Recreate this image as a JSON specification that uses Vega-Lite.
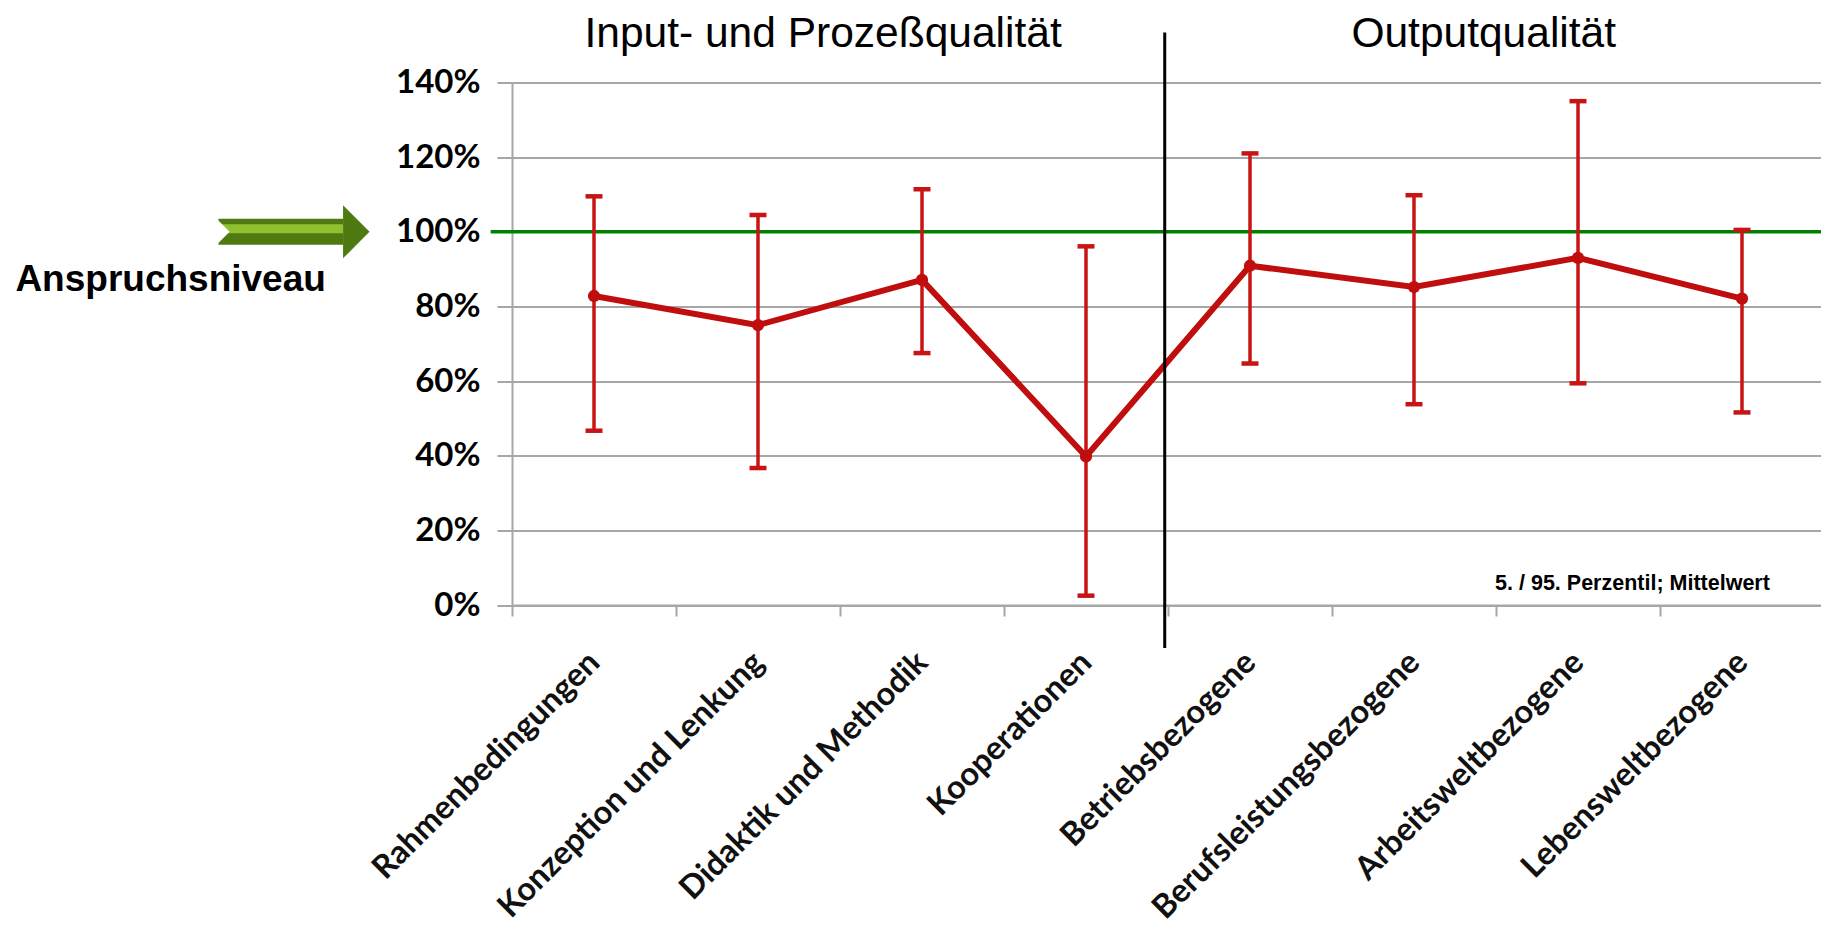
{
"$schema":"https://vega.github.io/schema/vega-lite/v6.json",
"autosize":{"type":"none"},
"width":1312,"height":522.5,
"padding":{"left":512,"top":82.5,"right":0,"bottom":324},
"background":"white",
"view":{"stroke":null},
"datasets":{"q":[
{"k":"Rahmenbedingungen","m":0.828,"lo":0.467,"hi":1.095},
{"k":"Konzeption und Lenkung","m":0.75,"lo":0.367,"hi":1.045},
{"k":"Didaktik und Methodik","m":0.871,"lo":0.675,"hi":1.114},
{"k":"Kooperationen","m":0.398,"lo":0.025,"hi":0.961},
{"k":"Betriebsbezogene","m":0.909,"lo":0.647,"hi":1.21},
{"k":"Berufsleistungsbezogene","m":0.852,"lo":0.538,"hi":1.098},
{"k":"Arbeitsweltbezogene","m":0.93,"lo":0.594,"hi":1.35},
{"k":"Lebensweltbezogene","m":0.821,"lo":0.516,"hi":1.005}
]},
"resolve":{"scale":{"x":"independent"},"axis":{"x":"independent"}},
"layer":[
{"data":{"name":"q"},"mark":{"type":"line","opacity":0},
 "encoding":{
  "x":{"field":"k","type":"nominal","sort":null,"scale":{"type":"band","paddingInner":0,"paddingOuter":0},
   "axis":{"title":null,"bandPosition":0,"tickBand":"extent","domain":true,"domainColor":"#a6a6a6","domainWidth":2,"tickColor":"#a6a6a6","tickWidth":2,"tickSize":11,"labelAngle":-45,"labelAlign":"right","labelBaseline":"middle","labelFont":"Lato","labelFontWeight":"bold","labelFontSize":32.5,"labelColor":"#111111","labelPadding":41,"labelOverlap":false,"labelBound":false,"labelLimit":600}},
  "y":{"field":"m","type":"quantitative","scale":{"domain":[0,1.4],"nice":false},
   "axis":{"title":null,"values":[0,0.2,0.4,0.6,0.8,1,1.2,1.4],"format":".0%","grid":true,"gridColor":"#a6a6a6","gridWidth":2,"domain":true,"domainColor":"#a6a6a6","domainWidth":2,"tickColor":"#a6a6a6","tickWidth":2,"tickSize":15,"labelFont":"Lato","labelFontWeight":"bold","labelFontSize":33,"labelColor":"#000000","labelPadding":17}}
 }},
{"data":{"values":[{"a":-0.13,"b":8,"v":1}]},"mark":{"type":"rule","color":"#008000","strokeWidth":3.5,"clip":false},
 "encoding":{"x":{"field":"a","type":"quantitative","scale":{"domain":[0,8],"nice":false,"zero":false},"axis":null},"x2":{"field":"b"},"y":{"field":"v","type":"quantitative"}}},
{"data":{"name":"q"},"mark":{"type":"rule","color":"#c81414","strokeWidth":3.5},
 "encoding":{"x":{"field":"k","type":"nominal","sort":null,"scale":{"type":"band","paddingInner":0,"paddingOuter":0},"axis":null},"y":{"field":"lo","type":"quantitative"},"y2":{"field":"hi"}}},
{"data":{"name":"q"},"mark":{"type":"tick","color":"#c81414","opacity":1,"size":17,"thickness":4.5,"orient":"horizontal"},
 "encoding":{"x":{"field":"k","type":"nominal","sort":null,"scale":{"type":"band","paddingInner":0,"paddingOuter":0},"axis":null},"y":{"field":"lo","type":"quantitative"}}},
{"data":{"name":"q"},"mark":{"type":"tick","color":"#c81414","opacity":1,"size":17,"thickness":4.5,"orient":"horizontal"},
 "encoding":{"x":{"field":"k","type":"nominal","sort":null,"scale":{"type":"band","paddingInner":0,"paddingOuter":0},"axis":null},"y":{"field":"hi","type":"quantitative"}}},
{"data":{"name":"q"},"mark":{"type":"line","color":"#c00d0d","strokeWidth":6,"point":{"filled":true,"color":"#c00d0d","size":150,"opacity":1}},
 "encoding":{"x":{"field":"k","type":"nominal","sort":null,"scale":{"type":"band","paddingInner":0,"paddingOuter":0},"axis":null},"y":{"field":"m","type":"quantitative"}}},
{"data":{"values":[{"a":3.98,"v":1.534,"w":-0.115}]},"mark":{"type":"rule","color":"#000000","strokeWidth":3,"clip":false},
 "encoding":{"x":{"field":"a","type":"quantitative","scale":{"domain":[0,8],"nice":false,"zero":false},"axis":null},"y":{"field":"v","type":"quantitative"},"y2":{"field":"w"}}},
{"data":{"values":[{"a":-1.79,"b":-1.03,"v":1.0}]},"mark":{"type":"rule","color":"#4f7a12","strokeWidth":26,"clip":false},
 "encoding":{"x":{"field":"a","type":"quantitative","scale":{"domain":[0,8],"nice":false,"zero":false},"axis":null},"x2":{"field":"b"},"y":{"field":"v","type":"quantitative"}}},
{"data":{"values":[{"a":-1.79,"b":-1.03,"v":1.008}]},"mark":{"type":"rule","color":"#8fc02f","strokeWidth":9,"clip":false},
 "encoding":{"x":{"field":"a","type":"quantitative","scale":{"domain":[0,8],"nice":false,"zero":false},"axis":null},"x2":{"field":"b"},"y":{"field":"v","type":"quantitative"}}},
{"data":{"values":[{"a":-1.03,"v":1.0}]},"mark":{"type":"point","filled":true,"color":"#4f7a12","opacity":1,"shape":"M0,-1L1,0L0,1Z","size":2808,"clip":false},
 "encoding":{"x":{"field":"a","type":"quantitative","scale":{"domain":[0,8],"nice":false,"zero":false},"axis":null},"y":{"field":"v","type":"quantitative"}}},
{"data":{"values":[{"a":-1.795,"v":1.0}]},"mark":{"type":"point","filled":true,"color":"#ffffff","opacity":1,"shape":"M0,-1L1,0L0,1Z","size":576,"clip":false},
 "encoding":{"x":{"field":"a","type":"quantitative","scale":{"domain":[0,8],"nice":false,"zero":false},"axis":null},"y":{"field":"v","type":"quantitative"}}},
{"data":{"values":[{"t":"Input- und Prozeßqualität","a":1.897,"v":1.53},{"t":"Outputqualität","a":5.925,"v":1.53}]},"mark":{"type":"text","font":"Liberation Sans","fontSize":42.5,"color":"#000000","align":"center","baseline":"middle","clip":false},
 "encoding":{"x":{"field":"a","type":"quantitative","scale":{"domain":[0,8],"nice":false,"zero":false},"axis":null},"y":{"field":"v","type":"quantitative"},"text":{"field":"t"}}},
{"data":{"values":[{"t":"Anspruchsniveau","a":-1.135,"v":0.872}]},"mark":{"type":"text","font":"Liberation Sans","fontWeight":"bold","fontSize":37,"color":"#000000","align":"right","baseline":"middle","clip":false},
 "encoding":{"x":{"field":"a","type":"quantitative","scale":{"domain":[0,8],"nice":false,"zero":false},"axis":null},"y":{"field":"v","type":"quantitative"},"text":{"field":"t"}}},
{"data":{"values":[{"t":"5. / 95. Perzentil; Mittelwert","a":7.67,"v":0.056}]},"mark":{"type":"text","font":"Liberation Sans","fontWeight":"bold","fontSize":21.5,"color":"#000000","align":"right","baseline":"middle","clip":false},
 "encoding":{"x":{"field":"a","type":"quantitative","scale":{"domain":[0,8],"nice":false,"zero":false},"axis":null},"y":{"field":"v","type":"quantitative"},"text":{"field":"t"}}}
]
}
